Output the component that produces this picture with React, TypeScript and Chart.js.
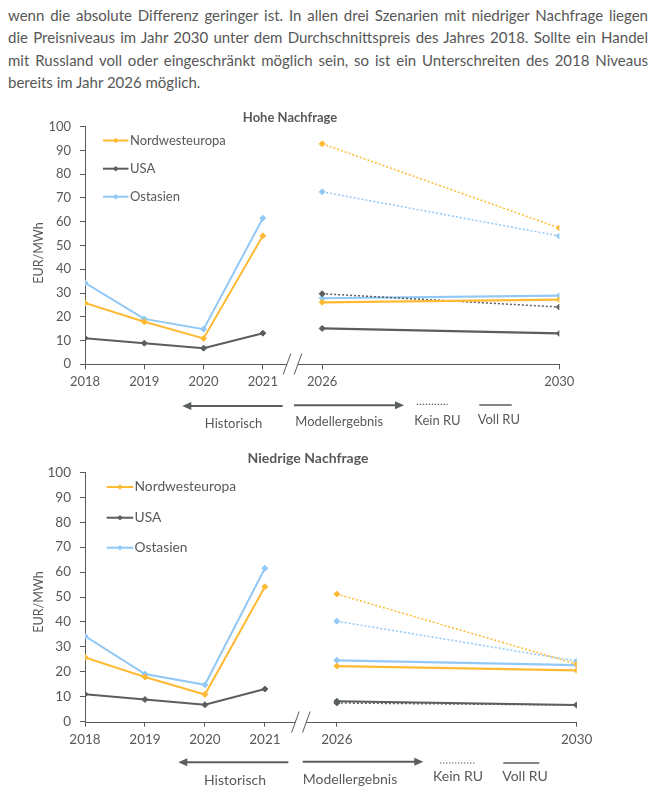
import React, { useEffect, useRef } from 'react';
import { Chart, registerables } from 'chart.js';

Chart.register(...registerables);

// ---------- data ----------
const histYears = ['2018', '2019', '2020', '2021'];
const modelYears = ['2026', '2030'];
const histSlots = [0, 1, 2, 3];
const modelSlotsHigh = [4, 8];
const modelSlotsLow = [4.2, 8.2];

const seriesNames = ['Nordwesteuropa', 'USA', 'Ostasien'];
const scenarioNames = ['Kein RU', 'Voll RU'];
const arrowLabels = ['Historisch', 'Modellergebnis'];
const yTicks = [0, 10, 20, 30, 40, 50, 60, 70, 80, 90, 100];

const nweHist = [25.8, 17.9, 10.9, 54.1];
const usaHist = [11.0, 8.9, 6.8, 13.1];
const oaHist = [34.3, 19.1, 14.8, 61.5];

// Hohe Nachfrage
const nweKeinHigh = [92.8, 57.4];
const oaKeinHigh = [72.6, 54.0];
const usaKeinHigh = [29.7, 24.1];
const nweVollHigh = [26.1, 27.2];
const oaVollHigh = [27.8, 28.9];
const usaVollHigh = [15.1, 13.0];

// Niedrige Nachfrage
const nweKeinLow = [51.2, 23.1];
const oaKeinLow = [40.3, 24.3];
const usaKeinLow = [7.5, 6.7];
const nweVollLow = [22.3, 20.6];
const oaVollLow = [24.6, 22.7];
const usaVollLow = [8.2, 6.7];

const paragraphLines = [
  'wenn die absolute Differenz geringer ist. In allen drei Szenarien mit niedriger Nachfrage liegen',
  'die Preisniveaus im Jahr 2030 unter dem Durchschnittspreis des Jahres 2018. Sollte ein Handel',
  'mit Russland voll oder eingeschränkt möglich sein, so ist ein Unterschreiten des 2018 Niveaus',
  'bereits im Jahr 2026 möglich.',
];

// ---------- styles ----------
const FONT = 'Lato, "Noto Sans", sans-serif';
const ORANGE = '#FFB933';
const GRAY = '#5A5E5E';
const BLUE = '#91C8F6';
const AXIS = '#5A5A5A';
const TEXT = '#595959';
const COLORS = [ORANGE, GRAY, BLUE];

type Spec = {
  title: string;
  modelSlots: number[];
  xMax: number;
  kein: number[][];
  voll: number[][];
};

type Lay = {
  top: number;
  height: number;
  area: { left: number; right: number; top: number; bottom: number };
  tickSize: number;
  tickPad: number;
  titleSize: number;
  titleX: number;
  titleY: number;
  yTitleX: number;
  yTitleY: number;
  yTitleSize: number;
  legendX1: number;
  legendX2: number;
  legendTextX: number;
  legendY: number[];
  legendSize: number;
  histArrow: [number, number, number];
  modelArrow: [number, number, number];
  histLabel: [number, number];
  modelLabel: [number, number];
  keinSample: [number, number, number];
  keinLabel: [number, number];
  vollSample: [number, number, number];
  vollLabel: [number, number];
  annoSize: number;
};

const specHigh: Spec = {
  title: 'Hohe Nachfrage',
  modelSlots: modelSlotsHigh,
  xMax: 8,
  kein: [nweKeinHigh, usaKeinHigh, oaKeinHigh],
  voll: [nweVollHigh, usaVollHigh, oaVollHigh],
};

const specLow: Spec = {
  title: 'Niedrige Nachfrage',
  modelSlots: modelSlotsLow,
  xMax: 8.2,
  kein: [nweKeinLow, usaKeinLow, oaKeinLow],
  voll: [nweVollLow, usaVollLow, oaVollLow],
};

const layHigh: Lay = {
  top: 100,
  height: 340,
  area: { left: 85, right: 559.3, top: 126.7, bottom: 364.3 },
  tickSize: 13,
  tickPad: 5,
  titleSize: 13,
  titleX: 290,
  titleY: 118,
  yTitleX: 39,
  yTitleY: 253,
  yTitleSize: 12.5,
  legendX1: 103,
  legendX2: 128.5,
  legendTextX: 130,
  legendY: [140.5, 168.7, 196.7],
  legendSize: 13,
  histArrow: [182.3, 282.7, 406],
  modelArrow: [294, 404, 405.3],
  histLabel: [233.6, 423.5],
  modelLabel: [339.2, 422.3],
  keinSample: [416.7, 447.7, 404.3],
  keinLabel: [437.5, 420.7],
  vollSample: [479.3, 511.7, 405],
  vollLabel: [498.8, 420],
  annoSize: 13,
};

const layLow: Lay = {
  top: 445,
  height: 351,
  area: { left: 85, right: 576.7, top: 472.3, bottom: 721.7 },
  tickSize: 13.5,
  tickPad: 5,
  titleSize: 14,
  titleX: 308,
  titleY: 458.5,
  yTitleX: 39,
  yTitleY: 602,
  yTitleSize: 12.5,
  legendX1: 106.7,
  legendX2: 133.3,
  legendTextX: 134.5,
  legendY: [487, 517.7, 547.7],
  legendSize: 13.8,
  histArrow: [178.3, 288.3, 762.3],
  modelArrow: [302.7, 423.3, 761.7],
  histLabel: [235, 780],
  modelLabel: [350, 779.3],
  keinSample: [440, 475.7, 763],
  keinLabel: [458, 776],
  vollSample: [503.3, 539.3, 763],
  vollLabel: [525, 776],
  annoSize: 14,
};

function drawDiamond(ctx: CanvasRenderingContext2D, x: number, y: number, r: number) {
  ctx.beginPath();
  ctx.moveTo(x, y - r);
  ctx.lineTo(x + r, y);
  ctx.lineTo(x, y + r);
  ctx.lineTo(x - r, y);
  ctx.closePath();
  ctx.fill();
}

function line(ctx: CanvasRenderingContext2D, x1: number, y1: number, x2: number, y2: number) {
  ctx.beginPath();
  ctx.moveTo(x1, y1);
  ctx.lineTo(x2, y2);
  ctx.stroke();
}

function buildConfig(spec: Spec, lay: Lay): any {
  const allSlots = [...histSlots, ...spec.modelSlots];
  const allLabels = [...histYears, ...modelYears];
  const hists = [nweHist, usaHist, oaHist];

  const datasets: any[] = [];
  seriesNames.forEach((name, s) => {
    const color = COLORS[s];
    const common = {
      borderColor: color,
      backgroundColor: color,
      pointBackgroundColor: color,
      pointBorderColor: color,
      pointStyle: 'rectRot',
      pointRadius: 3,
      pointBorderWidth: 1,
      tension: 0,
      fill: false,
    };
    datasets.push({
      ...common,
      label: name,
      data: histSlots.map((x, i) => ({ x, y: hists[s][i] })),
      borderWidth: 2,
    });
    datasets.push({
      ...common,
      label: name + ' ' + scenarioNames[1],
      data: spec.modelSlots.map((x, i) => ({ x, y: spec.voll[s][i] })),
      borderWidth: 2.2,
    });
    datasets.push({
      ...common,
      label: name + ' ' + scenarioNames[0],
      data: spec.modelSlots.map((x, i) => ({ x, y: spec.kein[s][i] })),
      borderWidth: 1.5,
      borderDash: [2, 2],
    });
  });

  const xAxisHeight = 30;
  const yAxisWidth = 50;
  const oy = lay.top;

  const deco = {
    id: 'deco',
    afterDraw(chart: any) {
      const ctx: CanvasRenderingContext2D = chart.ctx;
      const xs = chart.scales.x;
      const ys = chart.scales.y;
      ctx.save();

      // broken x-axis line
      const y0 = Math.round(ys.getPixelForValue(0)) + 0.5;
      const bx = xs.getPixelForValue((histSlots[histSlots.length - 1] + spec.modelSlots[0]) / 2);
      ctx.strokeStyle = AXIS;
      ctx.lineWidth = 1;
      line(ctx, xs.left, y0, bx - 5.5, y0);
      line(ctx, bx + 5.5, y0, xs.right, y0);
      [-5.5, 5.5].forEach((d) => line(ctx, bx + d - 3.8, y0 + 10, bx + d + 3.8, y0 - 11));

      // title
      ctx.fillStyle = TEXT;
      ctx.textAlign = 'center';
      ctx.textBaseline = 'middle';
      ctx.font = `bold ${lay.titleSize}px ${FONT}`;
      ctx.fillText(spec.title, lay.titleX, lay.titleY - oy);

      // y-axis title
      ctx.save();
      ctx.translate(lay.yTitleX, lay.yTitleY - oy);
      ctx.rotate(-Math.PI / 2);
      ctx.font = `${lay.yTitleSize}px ${FONT}`;
      ctx.fillText('EUR/MWh', 0, 0);
      ctx.restore();

      // legend
      seriesNames.forEach((name, i) => {
        const y = lay.legendY[i] - oy;
        ctx.strokeStyle = COLORS[i];
        ctx.fillStyle = COLORS[i];
        ctx.lineWidth = 2;
        line(ctx, lay.legendX1, y, lay.legendX2, y);
        drawDiamond(ctx, (lay.legendX1 + lay.legendX2) / 2, y, 2.8);
        ctx.fillStyle = TEXT;
        ctx.textAlign = 'left';
        ctx.font = `${lay.legendSize}px ${FONT}`;
        ctx.fillText(name, lay.legendTextX, y);
      });

      // arrows
      ctx.strokeStyle = GRAY;
      ctx.fillStyle = GRAY;
      ctx.lineWidth = 2;
      const [hx1, hx2, hy] = lay.histArrow;
      line(ctx, hx1 + 6, hy - oy, hx2, hy - oy);
      ctx.beginPath();
      ctx.moveTo(hx1, hy - oy);
      ctx.lineTo(hx1 + 9, hy - oy - 4);
      ctx.lineTo(hx1 + 9, hy - oy + 4);
      ctx.closePath();
      ctx.fill();
      const [mx1, mx2, my] = lay.modelArrow;
      line(ctx, mx1, my - oy, mx2 - 6, my - oy);
      ctx.beginPath();
      ctx.moveTo(mx2, my - oy);
      ctx.lineTo(mx2 - 9, my - oy - 4);
      ctx.lineTo(mx2 - 9, my - oy + 4);
      ctx.closePath();
      ctx.fill();

      // scenario samples
      ctx.lineWidth = 1.2;
      ctx.setLineDash([1.4, 1.6]);
      const [kx1, kx2, ky] = lay.keinSample;
      line(ctx, kx1, ky - oy, kx2, ky - oy);
      ctx.setLineDash([]);
      ctx.lineWidth = 1.6;
      const [vx1, vx2, vy] = lay.vollSample;
      line(ctx, vx1, vy - oy, vx2, vy - oy);

      // annotation labels
      ctx.fillStyle = TEXT;
      ctx.textAlign = 'center';
      ctx.font = `${lay.annoSize}px ${FONT}`;
      ctx.fillText(arrowLabels[0], lay.histLabel[0], lay.histLabel[1] - oy);
      ctx.fillText(arrowLabels[1], lay.modelLabel[0], lay.modelLabel[1] - oy);
      ctx.fillText(scenarioNames[0], lay.keinLabel[0], lay.keinLabel[1] - oy);
      ctx.fillText(scenarioNames[1], lay.vollLabel[0], lay.vollLabel[1] - oy);

      ctx.restore();
    },
  };

  return {
    type: 'line',
    data: { datasets },
    plugins: [deco],
    options: {
      animation: false,
      responsive: false,
      layout: {
        padding: {
          left: lay.area.left - yAxisWidth,
          right: 660 - lay.area.right,
          top: lay.area.top - oy,
          bottom: lay.height - (lay.area.bottom - oy) - xAxisHeight,
        },
      },
      plugins: {
        legend: { display: false },
        title: { display: false },
        tooltip: { enabled: false },
      },
      scales: {
        x: {
          type: 'linear',
          min: 0,
          max: spec.xMax,
          afterFit: (scale: any) => {
            scale.height = xAxisHeight;
          },
          afterBuildTicks: (scale: any) => {
            scale.ticks = allSlots.map((v) => ({ value: v }));
          },
          ticks: {
            autoSkip: false,
            maxRotation: 0,
            padding: lay.tickPad,
            color: TEXT,
            font: { family: FONT, size: lay.tickSize },
            callback: (value: number) => {
              const idx = allSlots.indexOf(value);
              return idx >= 0 ? allLabels[idx] : '';
            },
          },
          grid: {
            display: true,
            drawOnChartArea: false,
            drawTicks: true,
            tickLength: 5,
            tickColor: AXIS,
            color: AXIS,
          },
          border: { display: false },
        },
        y: {
          type: 'linear',
          min: 0,
          max: 100,
          afterFit: (scale: any) => {
            scale.width = yAxisWidth;
          },
          afterBuildTicks: (scale: any) => {
            scale.ticks = yTicks.map((v) => ({ value: v }));
          },
          ticks: {
            padding: 9,
            color: TEXT,
            font: { family: FONT, size: lay.tickSize },
          },
          grid: {
            display: true,
            drawOnChartArea: false,
            drawTicks: true,
            tickLength: 5,
            tickColor: AXIS,
            color: AXIS,
          },
          border: { display: true, color: AXIS, width: 1 },
        },
      },
    },
  };
}

function PriceChart({ spec, lay }: { spec: Spec; lay: Lay }) {
  const ref = useRef<HTMLCanvasElement>(null);
  useEffect(() => {
    const canvas = ref.current;
    if (!canvas) return;
    const chart = new Chart(canvas, buildConfig(spec, lay));
    return () => chart.destroy();
  }, [spec, lay]);
  return (
    <div style={{ position: 'absolute', left: 0, top: lay.top, width: 660, height: lay.height }}>
      <canvas ref={ref} width={660} height={lay.height} style={{ display: 'block', width: 660, height: lay.height }} />
    </div>
  );
}

export default function App() {
  return (
    <div style={{ position: 'absolute', left: 0, top: 0, width: 660, height: 796, background: '#fff', overflow: 'hidden' }}>
      <div
        style={{
          position: 'absolute',
          left: 8,
          top: 4,
          width: 640,
          fontFamily: FONT,
          fontSize: 15,
          lineHeight: '22.3px',
          color: '#575757',
        }}
      >
        {paragraphLines.map((t, i) => (
          <div
            key={i}
            style={{
              whiteSpace: 'nowrap',
              textAlign: i < paragraphLines.length - 1 ? 'justify' : 'left',
              textAlignLast: i < paragraphLines.length - 1 ? 'justify' : 'left',
            } as any}
          >
            {t}
          </div>
        ))}
      </div>
      <PriceChart spec={specHigh} lay={layHigh} />
      <PriceChart spec={specLow} lay={layLow} />
    </div>
  );
}
